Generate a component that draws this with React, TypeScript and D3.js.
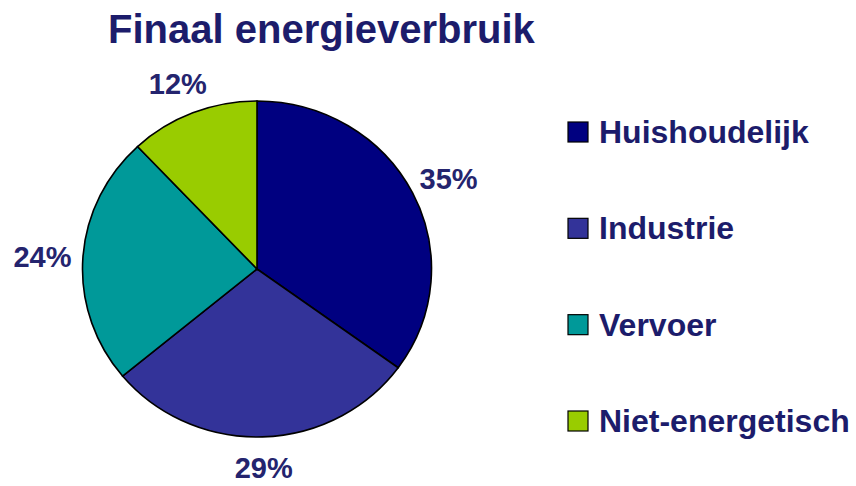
import * as d3 from "d3";

const categories = ["Huishoudelijk", "Industrie", "Vervoer", "Niet-energetisch"];
const shares = [35, 29, 24, 12];
const colors = ["#000080", "#333399", "#009999", "#99CC00"];
const title = "Finaal energieverbruik";

const W = 856;
const H = 486;
const FONT = "'Liberation Sans', Arial, sans-serif";

export default function App() {
  const cx = 257;
  const cy = 269;
  const r = 168;
  const stretch = 174.5 / 168; // the pie is a bit wider than tall

  const pie = d3
    .pie<number>()
    .sort(null)
    .value((d) => d);
  const arcs = pie(shares);
  const arc = d3.arc<d3.PieArcDatum<number>>().innerRadius(0).outerRadius(r);

  // label ring, slightly wider than tall like the pie
  const labelRx = 215;
  const labelRy = 199;
  const labelSize = 29;

  const legendY = d3
    .scalePoint<string>()
    .domain(categories)
    .range([132, 421]);

  return (
    <svg
      width={W}
      height={H}
      style={{ position: "absolute", left: 0, top: 0, background: "#fff" }}
      fontFamily={FONT}
    >
      <text x={108} y={43} fontSize={40} fontWeight="bold" fill="#1c1c6b">
        {title}
      </text>

      <g transform={`translate(${cx},${cy}) scale(${stretch},1)`}>
        {arcs.map((a, i) => (
          <path
            key={categories[i]}
            d={arc(a) || ""}
            fill={colors[i]}
            stroke="#000"
            strokeWidth={1.6}
            vectorEffect="non-scaling-stroke"
          />
        ))}
      </g>

      {arcs.map((a, i) => {
        const mid = (a.startAngle + a.endAngle) / 2;
        const x = cx + labelRx * Math.sin(mid);
        const y = cy - labelRy * Math.cos(mid);
        return (
          <text
            key={"l" + i}
            x={x}
            y={y + labelSize * 0.36}
            textAnchor="middle"
            fontSize={labelSize}
            fontWeight="bold"
            fill="#24246e"
          >
            {shares[i]}%
          </text>
        );
      })}

      {categories.map((c, i) => {
        const y = legendY(c) || 0;
        return (
          <g key={c}>
            <rect
              x={568}
              y={y - 10}
              width={20}
              height={20}
              fill={colors[i]}
              stroke="#000"
              strokeWidth={1.2}
            />
            <text
              x={599}
              y={y + 11}
              fontSize={32}
              fontWeight="bold"
              fill="#1c1c6b"
            >
              {c}
            </text>
          </g>
        );
      })}
    </svg>
  );
}
